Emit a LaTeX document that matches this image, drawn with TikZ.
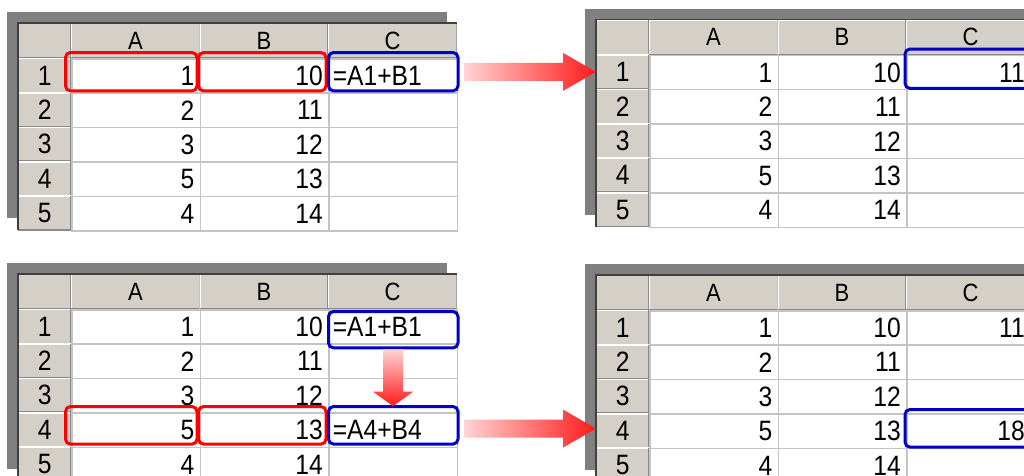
\documentclass[tikz,border=0pt]{standalone}
\usepackage{fontspec}
\setmainfont{Liberation Sans}[FakeStretch=0.88]
\usetikzlibrary{calc}
\definecolor{shadowgray}{HTML}{808080}
\definecolor{hdrgray}{HTML}{D4D0C8}
\definecolor{hdrdark}{HTML}{8A8A8A}
\definecolor{tabdark}{HTML}{404040}
\definecolor{gridgray}{HTML}{C4C4C4}
\definecolor{hlred}{HTML}{FF0000}
\definecolor{hlblue}{HTML}{0000C8}
\definecolor{arrowlight}{HTML}{FFD4D4}
\definecolor{arrowred}{HTML}{FF1A1A}
\newcommand\cellfont{\fontsize{28}{31}\selectfont}
\newcommand\hdrfont{\fontsize{25}{28}\selectfont}
\tikzset{
  hdr/.style={anchor=north west, inner sep=0pt, fill=hdrgray, minimum height=35, font=\hdrfont,
    path picture={
      \draw[white, line width=2.5] (path picture bounding box.south west) -- (path picture bounding box.north west) -- (path picture bounding box.north east);
      \draw[hdrdark, line width=2] (path picture bounding box.north east) -- (path picture bounding box.south east) -- (path picture bounding box.south west);}},
  rowhdr/.style={hdr, minimum width=53, minimum height=34.4, font=\cellfont},
  cell/.style={anchor=north west, draw=gridgray, line width=1.5, fill=white, minimum height=34.4,
    text width=116.5, inner xsep=6, inner ysep=0, align=right, font=\cellfont},
  formulacol/.style={align=left, text width=120.5, inner xsep=4},
  resultcol/.style={align=right, text width=107.5, inner xsep=10.5},
  hl/.style={line width=3, rounded corners=5},
  fatarrow/.style={draw=none}
}
\newcommand\xlsheet[5]{%
  \fill[shadowgray] ({#2-11},{#3-11}) rectangle ({#2+429},{#3+195});
  \node[hdr, minimum width=53] (#1-h0) at (#2,#3) {};
  \node[hdr, minimum width=128.5] (#1-hA) at ({#2+53},#3) {A};
  \node[hdr, minimum width=128.5] (#1-hB) at ({#2+181.5},#3) {B};
  \node[hdr, minimum width=128.5] (#1-hC) at ({#2+310},#3) {C};
  \foreach \va/\vb/\vc [count=\rr] in {#4} {
    \node[rowhdr] (#1-R\rr) at (#2,{#3+35+(\rr-1)*34.4}) {\rr};
    \node[cell] (#1-A\rr) at ({#2+53},{#3+35+(\rr-1)*34.4}) {\va};
    \node[cell] (#1-B\rr) at ({#2+181.5},{#3+35+(\rr-1)*34.4}) {\vb};
    \node[cell, #5] (#1-C\rr) at ({#2+310},{#3+35+(\rr-1)*34.4}) {\vc};
  }
  \draw[tabdark, line width=1.5] (#1-R5.south west) -- (#1-h0.north west) -- (#1-hC.north east);
}
\newcommand\hlbox[6]{%
  \draw[hl, draw=#1] ($(#2.north west)+(#3,#4)$) rectangle ($(#2.south east)+(#5,#6)$);
}
\begin{document}
\begin{tikzpicture}[x=1pt, y=-1pt]
\useasboundingbox (0,0) rectangle (1024,475);
\clip (0,0) rectangle (1024,475);
\fill[white] (0,0) rectangle (1024,475);

% tables
\xlsheet{tl}{18}{23}{1/10/{=A1+B1}, 2/11/{}, 3/12/{}, 5/13/{}, 4/14/{}}{formulacol}
\xlsheet{tr}{596}{19.5}{1/10/11, 2/11/{}, 3/12/{}, 5/13/{}, 4/14/{}}{resultcol}
\xlsheet{bl}{18}{274}{1/10/{=A1+B1}, 2/11/{}, 3/12/{}, 5/13/{=A4+B4}, 4/14/{}}{formulacol}
\xlsheet{br}{596}{275}{1/10/11, 2/11/{}, 3/12/{}, 5/13/18, 4/14/{}}{resultcol}

% highlight boxes
\hlbox{hlred}{tl-A1}{-5.5}{-5.5}{-4}{-3}
\hlbox{hlred}{tl-B1}{-1}{-5.5}{-3.5}{-3}
\hlbox{hlblue}{tl-C1}{0.5}{-5.5}{0}{-3}
\hlbox{hlblue}{tr-C1}{-1}{-5.5}{6}{-2}
\hlbox{hlblue}{bl-C1}{0.5}{2.5}{0}{3}
\hlbox{hlred}{bl-A4}{-5.5}{-5.7}{-4}{-4}
\hlbox{hlred}{bl-B4}{-1}{-5.7}{-3.5}{-4}
\hlbox{hlblue}{bl-C4}{0.5}{-5.7}{0}{-4}
\hlbox{hlblue}{br-C4}{-1}{-3.7}{6}{-2}

% arrows
\coordinate (a1tail) at ($(tl-C1.east |- tr-R1.west)+(6,0)$);
\coordinate (a1tip) at (tr-R1.west);
\shade[fatarrow, left color=arrowlight, right color=arrowred]
  ($(a1tail)+(0,-9)$) -- ($(a1tip)+(-33,-9)$) -- ($(a1tip)+(-33,-19)$) -- (a1tip)
  -- ($(a1tip)+(-33,19)$) -- ($(a1tip)+(-33,9)$) -- ($(a1tail)+(0,9)$) -- cycle;

\coordinate (a2tail) at ($(bl-C4.east |- br-R4.west)+(6,-2)$);
\coordinate (a2tip) at ($(br-R4.west)+(0,-2)$);
\shade[fatarrow, left color=arrowlight, right color=arrowred]
  ($(a2tail)+(0,-9)$) -- ($(a2tip)+(-33,-9)$) -- ($(a2tip)+(-33,-19)$) -- (a2tip)
  -- ($(a2tip)+(-33,19)$) -- ($(a2tip)+(-33,9)$) -- ($(a2tail)+(0,9)$) -- cycle;

\coordinate (a3tail) at ($(bl-C1.south)+(0,4.5)$);
\coordinate (a3tip) at ($(bl-C4.north)+(0,-6)$);
\shade[fatarrow, top color=arrowlight, bottom color=arrowred]
  ($(a3tail)+(-10,0)$) -- ($(a3tip)+(-10,-14.5)$) -- ($(a3tip)+(-20,-14.5)$) -- (a3tip)
  -- ($(a3tip)+(20,-14.5)$) -- ($(a3tip)+(10,-14.5)$) -- ($(a3tail)+(10,0)$) -- cycle;
\end{tikzpicture}
\end{document}
